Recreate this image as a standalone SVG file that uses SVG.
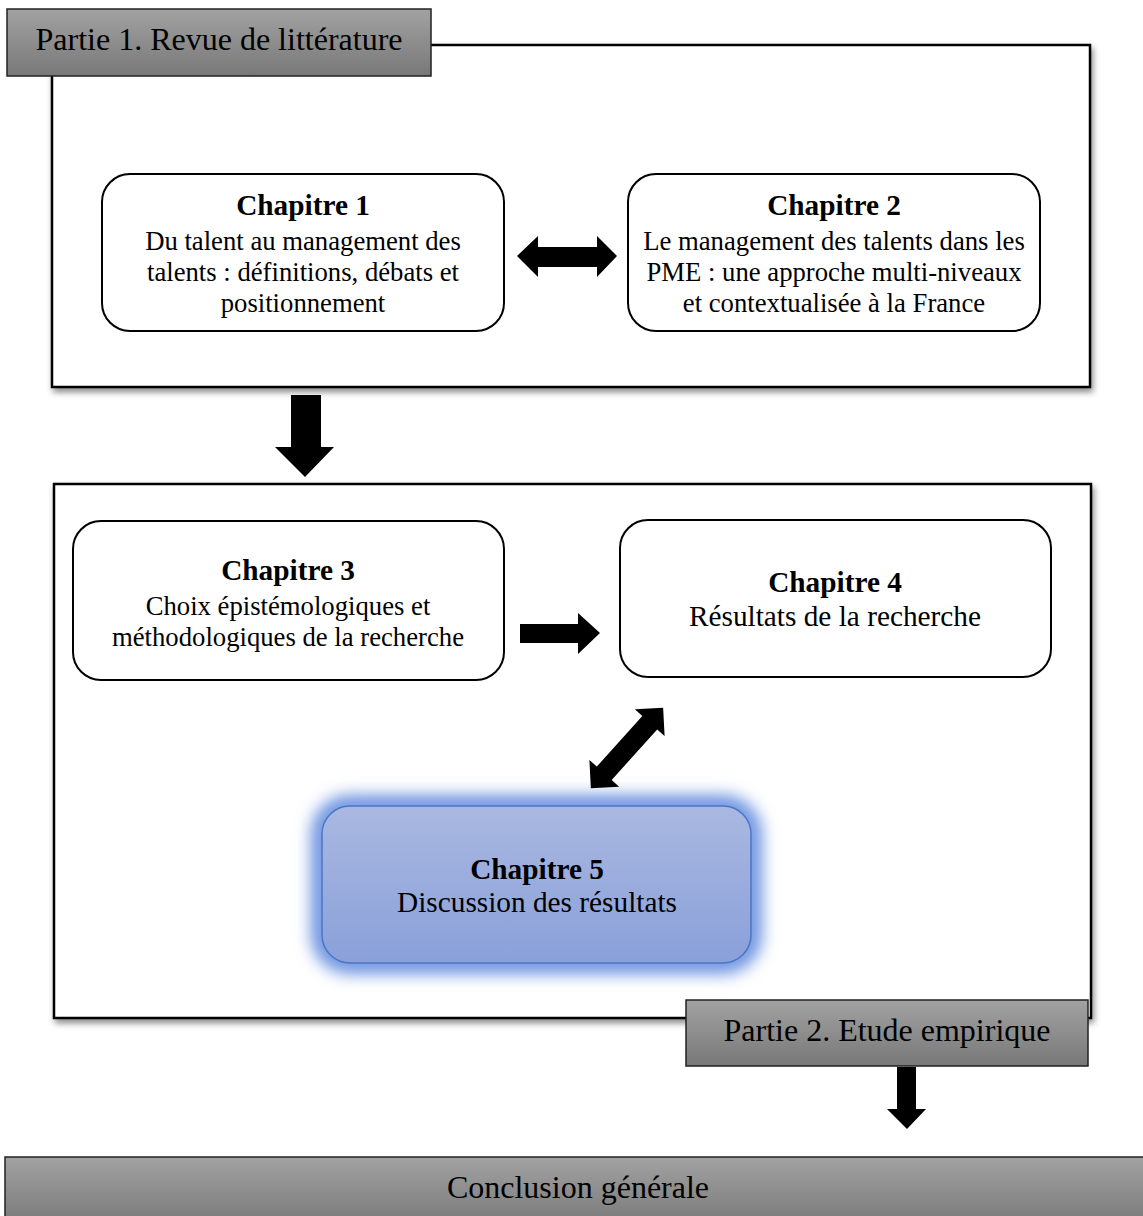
<svg xmlns="http://www.w3.org/2000/svg" width="1143" height="1216" viewBox="0 0 1143 1216">
<defs>
<linearGradient id="gray" x1="0" y1="0" x2="0" y2="1">
<stop offset="0" stop-color="#a2a2a2"/>
<stop offset="1" stop-color="#787878"/>
</linearGradient>
<linearGradient id="blue" x1="0" y1="0" x2="0" y2="1">
<stop offset="0" stop-color="#aab8e1"/>
<stop offset="1" stop-color="#8aa0d9"/>
</linearGradient>
<filter id="shadow" x="-5%" y="-5%" width="110%" height="115%">
<feDropShadow dx="2" dy="4" stdDeviation="3" flood-color="#000" flood-opacity="0.45"/>
</filter>
<filter id="glow" x="-20%" y="-30%" width="140%" height="160%">
<feGaussianBlur stdDeviation="8"/>
</filter>
</defs>
<style>
text{font-family:"Liberation Serif","Times New Roman",serif;fill:#000;text-anchor:middle}
.b{font-size:29.3px;font-weight:bold}
.t{font-size:26.7px}
.t2{font-size:29.3px}
.l{font-size:32px}
.frame{fill:#fff;stroke:#000;stroke-width:2.5}
.chap{fill:#fff;stroke:#000;stroke-width:2}
.lab{fill:url(#gray);stroke:#222;stroke-width:1.5}
.arr{fill:#000}
</style>

<g id="partie1-frame">
<rect class="frame" x="52" y="45" width="1038" height="342" filter="url(#shadow)"/>
</g>
<g id="partie1-label">
<rect class="lab" x="7" y="9" width="424" height="67"/>
<text class="l" x="219" y="50">Partie 1. Revue de littérature</text>
</g>

<g id="partie2-frame">
<rect class="frame" x="54" y="484" width="1037" height="534" filter="url(#shadow)"/>
</g>

<g id="chapitre1">
<rect class="chap" x="102" y="174" width="402" height="157" rx="28"/>
<text class="b" x="303" y="215">Chapitre 1</text>
<text class="t" x="303" y="250">Du talent au management des</text>
<text class="t" x="303" y="281">talents : définitions, débats et</text>
<text class="t" x="303" y="312">positionnement</text>
</g>

<g id="chapitre2">
<rect class="chap" x="628" y="174" width="412" height="157" rx="28"/>
<text class="b" x="834" y="215">Chapitre 2</text>
<text class="t" x="834" y="250">Le management des talents dans les</text>
<text class="t" x="834" y="281">PME : une approche multi-niveaux</text>
<text class="t" x="834" y="312">et contextualisée à la France</text>
</g>

<g id="chapitre3">
<rect class="chap" x="73" y="521" width="431" height="159" rx="28"/>
<text class="b" x="288" y="580">Chapitre 3</text>
<text class="t" x="288" y="615">Choix épistémologiques et</text>
<text class="t" x="288" y="646">méthodologiques de la recherche</text>
</g>

<g id="chapitre4">
<rect class="chap" x="620" y="520" width="431" height="157" rx="28"/>
<text class="b" x="835" y="592">Chapitre 4</text>
<text class="t2" x="835" y="626">Résultats de la recherche</text>
</g>

<g id="chapitre5">
<rect x="322" y="806" width="429" height="157" rx="28" fill="none" stroke="#6a92e0" stroke-width="22" filter="url(#glow)"/>
<rect x="322" y="806" width="429" height="157" rx="28" fill="url(#blue)" stroke="#4a76c9" stroke-width="1.5"/>
<text class="b" x="537" y="879">Chapitre 5</text>
<text class="t2" x="537" y="912">Discussion des résultats</text>
</g>

<g id="partie2-label">
<rect class="lab" x="686" y="1000" width="402" height="66"/>
<text class="l" x="887" y="1041">Partie 2. Etude empirique</text>
</g>

<g id="conclusion">
<rect class="lab" x="5" y="1157" width="1145" height="70"/>
<text class="l" x="578" y="1198">Conclusion générale</text>
</g>

<g id="connectors">
<polygon class="arr" points="517,256 538,236 538,247 597,247 597,236 617,256 597,277 597,267 538,267 538,277"/>
<polygon class="arr" points="291,395 321,395 321,447 334,447 305,477 275,447 291,447"/>
<polygon class="arr" points="520,624 578,624 578,613 600,633 578,654 578,643 520,643"/>
<polygon class="arr" transform="translate(627,748) rotate(-48)" points="-54,0 -34,-20 -34,-10 34,-10 34,-20 54,0 34,20 34,10 -34,10 -34,20"/>
<polygon class="arr" points="897,1067 916,1067 916,1109 926,1109 907,1129 887,1109 897,1109"/>
</g>
</svg>
